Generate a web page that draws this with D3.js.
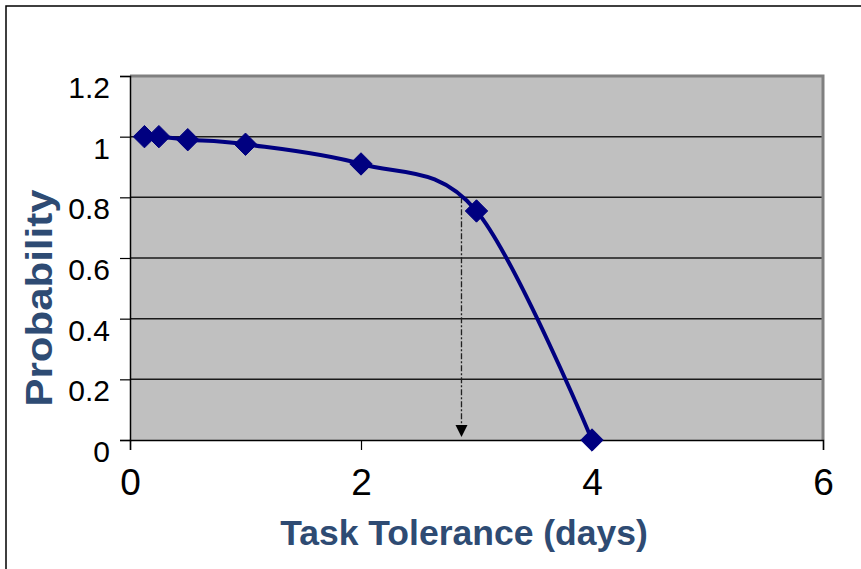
<!DOCTYPE html>
<html>
<head>
<meta charset="utf-8">
<script src="https://cdn.jsdelivr.net/npm/d3@7"></script>
<style>
  body { margin: 0; background: #fff; }
  text { font-family: "Liberation Sans", Arial, sans-serif; }
</style>
</head>
<body>
<svg width="861" height="569"></svg>
<script>
// data
const tolerance = [0.125, 0.25, 0.5, 1, 2, 3, 4];
const probability = [1, 1, 0.99, 0.975, 0.91, 0.755, 0];
const xTicks = [0, 2, 4, 6];
const yTicks = [0, 0.2, 0.4, 0.6, 0.8, 1, 1.2];
const yTickLabels = ["0", "0.2", "0.4", "0.6", "0.8", "1", "1.2"];
const arrowX = 2.87;
const arrowFrom = 0.8;
const arrowTo = 0;

const svg = d3.select("svg");
const plotLeft = 130, plotRight = 823, plotTop = 76, plotBottom = 440;

const x = d3.scaleLinear().domain([0, 6]).range([plotLeft, plotRight]);
const y = d3.scaleLinear().domain([0, 1.2]).range([plotBottom, plotTop]);

// outer frame
svg.append("rect")
  .attr("x", 6).attr("y", 6)
  .attr("width", 900).attr("height", 600)
  .attr("fill", "none").attr("stroke", "#000").attr("stroke-width", 1.5);

// plot area
svg.append("rect")
  .attr("x", plotLeft).attr("y", plotTop)
  .attr("width", plotRight - plotLeft).attr("height", plotBottom - plotTop)
  .attr("fill", "#c0c0c0");

// grid lines
svg.append("g")
  .selectAll("line")
  .data(yTicks.filter(d => d > 0 && d < 1.2))
  .enter()
  .append("line")
  .attr("x1", plotLeft).attr("x2", plotRight)
  .attr("y1", d => y(d)).attr("y2", d => y(d))
  .attr("stroke", "#1a1a1a").attr("stroke-width", 1.5);

// gray border top / right
svg.append("path")
  .attr("d", `M${plotLeft},${plotTop}H${plotRight}V${plotBottom}`)
  .attr("fill", "none").attr("stroke", "#808080").attr("stroke-width", 3);

// y axis
const yAxis = d3.axisLeft(y).tickValues(yTicks).tickSize(10)
  .tickFormat((d, i) => yTickLabels[i]);
const gy = svg.append("g").attr("transform", `translate(${plotLeft},0)`).call(yAxis);
gy.attr("font-size", null).attr("font-family", null);
gy.select(".domain").attr("stroke", "#000").attr("stroke-width", 1.5);
gy.selectAll(".tick line").attr("stroke", "#000").attr("stroke-width", 1.2);
gy.selectAll(".tick text")
  .attr("x", -20).attr("dy", "0.72em").attr("y", 0)
  .style("font-size", "30px").attr("fill", "#000");

// x axis
const xAxis = d3.axisBottom(x).tickValues(xTicks).tickSize(10).tickFormat(d3.format("d"));
const gx = svg.append("g").attr("transform", `translate(0,${plotBottom})`).call(xAxis);
gx.attr("font-size", null).attr("font-family", null);
gx.select(".domain").attr("stroke", "#000").attr("stroke-width", 1.5);
gx.selectAll(".tick line").attr("stroke", "#000").attr("stroke-width", 1.2);
gx.selectAll(".tick text")
  .attr("y", 55).attr("dy", 0)
  .style("font-size", "37px").attr("fill", "#000");

// dash-dot arrow
svg.append("line")
  .attr("x1", x(arrowX)).attr("x2", x(arrowX))
  .attr("y1", y(arrowFrom)).attr("y2", y(arrowTo) - 14)
  .attr("stroke", "#222").attr("stroke-width", 1.3)
  .attr("stroke-dasharray", "6,2,2,2");
svg.append("path")
  .attr("d", `M${x(arrowX) - 6},${y(arrowTo) - 15}L${x(arrowX) + 6},${y(arrowTo) - 15}L${x(arrowX)},${y(arrowTo) - 3}Z`)
  .attr("fill", "#000");

// smoothed line
const line = d3.line()
  .x((d, i) => x(tolerance[i]))
  .y(d => y(d))
  .curve(d3.curveCardinal.tension(0));
svg.append("path")
  .datum(probability)
  .attr("d", line)
  .attr("fill", "none").attr("stroke", "#000080").attr("stroke-width", 4);

// diamond markers
const diamond = d3.symbol().type(d3.symbolDiamond2).size(320);
svg.append("g")
  .selectAll("path")
  .data(probability)
  .enter()
  .append("path")
  .attr("d", diamond)
  .attr("transform", (d, i) => `translate(${x(tolerance[i])},${y(d)})`)
  .attr("fill", "#000080")
  .attr("stroke", "#000080").attr("stroke-width", 1).attr("stroke-linejoin", "round");

// axis titles
svg.append("text")
  .attr("x", 464).attr("y", 545)
  .attr("text-anchor", "middle")
  .attr("font-size", 35.5).attr("font-weight", "bold").attr("fill", "#2e4b73")
  .text("Task Tolerance (days)");

svg.append("text")
  .attr("transform", "translate(52,298) rotate(-90)")
  .attr("text-anchor", "middle")
  .attr("font-size", 37).attr("font-weight", "bold").attr("fill", "#2e4b73")
  .attr("textLength", 217).attr("lengthAdjust", "spacingAndGlyphs")
  .text("Probability");
</script>
</body>
</html>
